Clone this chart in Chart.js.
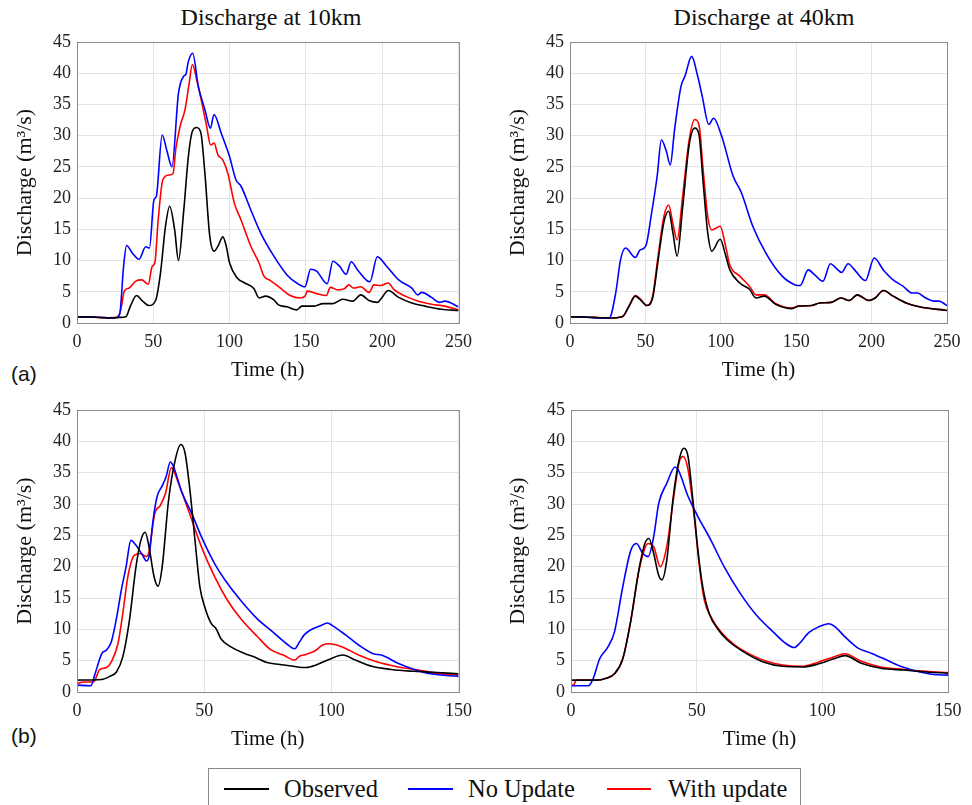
<!DOCTYPE html>
<html>
<head>
<meta charset="utf-8">
<script src="https://cdn.jsdelivr.net/npm/chart.js@4.4.1/dist/chart.umd.min.js"></script>
<style>
  body { margin: 0; background: #fff; width: 972px; height: 805px; overflow: hidden; position: relative; font-family: "Liberation Serif", serif; }
  canvas { position: absolute; }
  .title { position: absolute; top: 4px; font-size: 24px; color: #111; transform: translateX(-50%); white-space: nowrap; }
  .tag { position: absolute; left: 11px; font-family: "Liberation Sans", Arial, sans-serif; font-size: 21px; color: #111; }
  #legend { position: absolute; left: 208px; top: 768px; width: 593px; height: 60px; border: 1px solid #8a8a8a; box-sizing: border-box; }
  .item { position: absolute; top: 6px; font-size: 24.5px; color: #111; white-space: nowrap; }
  .swatch { position: absolute; top: 19px; height: 2px; }
</style>
</head>
<body>
<div class="title" style="left:271px">Discharge at 10km</div>
<div class="title" style="left:764px">Discharge at 40km</div>
<div class="tag" style="top:362px">(a)</div>
<div class="tag" style="top:724px">(b)</div>

<canvas id="a10" width="480" height="385" style="left:0;top:0"></canvas>
<canvas id="a40" width="482" height="385" style="left:490px;top:0"></canvas>
<canvas id="b10" width="480" height="364" style="left:0;top:390px"></canvas>
<canvas id="b40" width="482" height="364" style="left:490px;top:390px"></canvas>

<div id="legend">
  <div class="swatch" style="left:15px;width:45px;background:#000"></div>
  <div class="item" style="left:75px">Observed</div>
  <div class="swatch" style="left:199px;width:45px;background:#0000ff"></div>
  <div class="item" style="left:259px">No Update</div>
  <div class="swatch" style="left:398px;width:44px;background:#ff0000"></div>
  <div class="item" style="left:459px">With update</div>
</div>

<script>
// (a) discharge at 10 km, 0-250 h
const tA10Obs = [0,10,20,28,32,35,39,43,47,51.5,54.7,58,60.7,64,66.5,69.8,73,75.6,78.4,81.2,83.8,87,89.8,92.4,95.6,97.8,100,105,110,116,119.3,123.6,129,132,137.6,144,147.3,154.8,161.3,167.7,174.2,180.7,186,191.4,196.8,199,204,210.8,219.4,228,238.8,250];
const qA10Obs = [1.0,0.95,0.8,0.9,1.0,2.7,4.4,3.5,2.8,3.6,8,15.5,18.7,14.9,10,17.6,26.7,30.7,31.3,30.4,24,13.9,11.5,12.3,13.8,12.3,9.6,7.2,6.4,5.5,4.0,4.3,3.7,2.9,2.6,2.1,2.7,2.7,3.1,3.1,3.8,3.5,4.5,3.6,3.3,3.8,5.2,4.1,3.2,2.7,2.2,2.0];
const tA10No = [0,10,20,24.5,28,30.5,32.5,36,40.7,45,47.5,50.4,52,55.8,59,62.2,66.5,69.8,71.3,73,75.8,79.5,83.8,87.4,89.8,94.5,99.9,104.2,107.5,113.9,120.4,129,137.6,144,149.4,153.1,157,164,167.7,172,176.4,179.6,183.9,191.9,196.8,202.2,210.8,219.4,223.3,225.9,232.3,237.7,241,250];
const qA10No = [1.0,0.95,0.85,0.8,1.5,9,12.4,11.3,10.2,12.2,12,19.7,20.3,30.1,27.5,25,36.8,39.5,39.8,41.9,43.2,37.9,34.2,31.2,33.4,30.4,26.7,22.9,21.9,18.1,14.4,10.7,7.7,6.4,5.8,8.6,8.3,6.3,9.9,9.1,7.8,9.8,8.5,6.6,10.6,9.3,6.9,5.6,4.5,4.9,4.1,3.3,3.5,2.6];
const tA10Upd = [0,10,20,27,29,31,34.2,38.5,42.4,46.7,49.3,51,53.2,56.2,60.1,62.9,64.8,67.6,70.8,73.4,75.6,78.4,81.6,84.8,87.6,89.8,92.4,95.6,98.8,103.1,107.5,113.9,119.3,122.5,126.8,133.3,139.7,146.2,149.4,150.9,157,163.4,166,171,175.3,178.1,181.1,186,191.4,194.6,198.9,203.9,207.6,215.1,223.7,232.3,241,250];
const qA10Upd = [1.0,0.95,0.85,0.9,2.5,5.1,5.6,6.7,6.9,6.2,9.1,9.6,16.5,22.9,23.7,23.9,28,31.5,34.2,38.2,41.4,39,35.5,31.7,28.5,28.8,26.9,26.1,24,19.2,16.5,12.3,9.6,7.5,6.8,5.6,4.4,4.0,4.3,5.1,4.7,4.4,5.7,5.3,5.5,6.1,5.6,5.8,4.9,6.1,6.0,6.4,5.4,4.3,3.5,3.0,2.7,2.1];

// (a) discharge at 40 km, 0-250 h (observed and updated share times)
const tA40 = [0,10,20,26,34.6,39,43.3,47.2,50.9,54.8,58.4,62.3,65.4,68.2,71,74.7,79,82.7,85.5,88.3,91.3,94,99.6,103,106,112.6,119,123.4,128.8,136.4,147.2,151.5,160.2,165.6,173.2,179.7,185.1,190.5,198.1,202.4,207.8,214.3,222.9,231.6,250];
const qA40Obs = [1.0,0.95,0.85,0.8,1.0,2.6,4.3,3.6,2.8,4.0,10,16.2,17.9,14.5,10.7,18.5,28.5,31.2,30.2,22.5,14.5,11.5,13.4,11,8.5,6.4,5.4,4.0,4.3,3.0,2.3,2.7,2.8,3.2,3.3,4.0,3.6,4.5,3.6,4.0,5.2,4.3,3.2,2.6,2.0];
const qA40Upd = [1.0,0.95,0.85,0.8,1.0,2.7,4.4,3.7,2.8,4.3,10.7,17.1,18.9,16,13.3,20.3,29.3,32.6,31.8,24.5,17.1,14.9,15.5,12.5,9.3,7.5,5.9,4.5,4.5,3.1,2.4,2.7,2.8,3.2,3.3,4.0,3.6,4.5,3.6,4.0,5.2,4.3,3.2,2.6,2.0];
const tA40No = [0,10,17,26,30.3,33.5,36.8,43.3,46.5,50.2,54.1,57.8,60.6,63.9,66.5,69.3,73.6,76.2,80.7,84.4,87.7,92,95.2,100.6,108.2,113.6,121.2,129.9,140.7,149.4,152.6,158,162.3,167.7,172.7,176.4,180.1,184.4,189.4,195.9,201.7,207.8,214.3,220.8,226.8,230.5,235.9,241.3,244.6,250];
const qA40No = [1.0,0.95,0.8,0.8,4.8,10.1,12.0,10.5,11.7,12.3,17.6,23.5,29.3,27.5,25.3,30.9,37.9,39.5,42.7,39.8,36.3,31.8,32.8,29.9,23.5,20.9,15.5,11.2,7.5,6.1,6.0,8.5,7.7,6.7,9.5,8.8,8.1,9.5,8.3,6.8,10.4,8.5,6.9,5.9,4.8,4.8,4.0,3.5,3.5,2.8];

// (b) discharge at 10 km, 0-150 h
const tB10Obs = [0,9.7,12.9,15.5,18,20.6,23.2,25.1,26.8,28.3,30.3,31.9,33.5,36,38.6,40.8,42.5,44.4,46.4,48.3,50.2,52.8,54.7,56.6,60.5,65.7,70.8,74.7,79.8,85,90.1,94,99.1,104.5,109.4,115.9,123.6,132.6,141.6,150];
const qB10Obs = [1.9,2.0,2.5,3.2,5.6,11.4,20,24.2,25.5,23.2,18.4,16.9,20,30.6,37,39.5,38.1,32.2,24.2,16.8,13.6,10.9,10.1,8.5,7.2,6.2,5.4,4.7,4.4,4.1,3.9,4.3,5.2,5.9,5.1,4.1,3.6,3.3,3.1,2.9];
const tB10No = [0,5.4,7.1,9.7,11.6,13.5,15.5,17.4,19.3,21.2,23.2,25.8,27.3,28.3,29.9,31.5,33.5,35,36.7,38,41.2,45.1,48.9,54.1,59.2,64.4,70.8,77.2,82.4,85.6,87.5,89.5,92.7,95.3,98.5,100.4,105.6,110.7,116.5,119.7,126.2,132.6,139,150];
const qB10No = [1.1,1.0,2.9,6.1,6.7,8,11.7,16.2,20,24.2,23.4,21.8,20.9,21.6,27.4,31.2,32.9,34.3,36.7,35.9,31.9,28.5,24.8,20.5,17.3,14.6,11.7,9.5,7.7,6.9,8,9.2,10.1,10.5,11,10.6,9.1,7.5,6.1,5.9,4.6,3.6,2.9,2.5];
const tB10Upd = [0,2.6,6.4,9,11.6,13.5,16.1,18,20,22.5,25.1,27.3,28.3,30.6,32.8,34.8,37.1,39.9,43.8,48.9,54.1,59.2,64.4,70.8,76,81.1,85.6,87.5,90.1,93.3,96.6,99.1,104.3,110.7,117.2,126.2,132.6,141.6,150];
const qB10Upd = [1.3,1.6,1.6,3.6,3.9,4.8,7.7,12.5,18.4,21.8,22.1,21.6,22.4,28.5,29.8,31.7,35.8,33.3,29,23.2,18.4,14.6,11.7,8.9,6.8,5.9,5.1,5.7,6.0,6.5,7.5,7.7,7.2,5.9,4.9,4.0,3.6,3.0,2.7];

// (b) discharge at 40 km, 0-150 h
const tB40Obs = [0,10.1,14,17.3,20.6,23.8,27.1,29.4,31,32.9,34.9,36.2,38.1,40.7,43.3,45,46.6,48.5,50.5,52.4,55,58.3,62.2,68.7,76.5,84.3,92.1,98.6,104.5,109,115.5,123.3,132.4,141.5,150];
const qB40Obs = [1.9,1.9,2.2,2.9,5.3,11.4,19.7,23.7,24.5,22.1,18.6,17.9,21,31.2,37.5,38.9,37.5,30.6,22.6,16.8,12.5,10.1,8.3,6.4,4.8,4.1,4.0,4.5,5.3,5.8,4.6,3.8,3.5,3.2,3.0];
const tB40No = [0,6.9,8.8,11.4,14.7,17.3,20.6,23.8,26,28.6,30.7,32.9,34.9,38.1,41.4,42.7,46.6,50.5,55.7,60.9,67.4,73.9,80.4,85.6,88.9,90.8,94.7,98.6,102.5,105.1,109,114.2,119.4,124.6,131.1,138.9,144.1,150];
const qB40No = [1.0,1.0,2.1,5.3,7.2,9.6,16.8,22.6,23.7,22.1,21.6,24.8,30.1,33.3,35.9,35.4,31.2,28,24.2,20,15.7,12.2,9.6,7.7,7.1,7.7,9.5,10.4,10.9,10.4,8.8,7.0,6.2,5.3,4.1,3.2,2.8,2.7];
const tB40Upd = [0,1,2.1,10.1,14,17.3,20.6,23.8,27.1,30.7,32.9,35.5,38.1,40.7,42.9,44.6,46.6,49.2,51.1,53.1,55.7,59.6,64.8,71.3,77.8,84.3,92.1,98.6,104.5,109,115.5,123.3,132.4,141.5,150];
const qB40Upd = [1.1,1.1,1.9,1.9,2.2,2.9,5.3,11.4,19.5,23.7,23.2,20,23.2,30.6,36.5,37.6,35.4,27.4,20,14.6,12,9.6,7.6,6.0,4.9,4.3,4.1,4.8,5.6,6.1,4.9,4.0,3.6,3.3,3.1];

const seriesNames = ["Observed", "No Update", "With update"];
const seriesColors = ["#000000", "#0000ff", "#ff0000"];
const yTicks = [0, 5, 10, 15, 20, 25, 30, 35, 40, 45];

const pairs = (t, q) => t.map((x, i) => ({ x: x, y: q[i] }));

// box round the plot area, like matlab's "box on"
const boxPlugin = {
  id: "box",
  afterDraw(chart) {
    const a = chart.chartArea, ctx = chart.ctx;
    ctx.save();
    ctx.strokeStyle = "#8c8c8c";
    ctx.lineWidth = 1;
    ctx.strokeRect(Math.round(a.left) + 0.5, Math.round(a.top) + 0.5,
      Math.round(a.right - a.left), Math.round(a.bottom - a.top));
    ctx.restore();
  }
};

function makePanel(id, lines, xMax, opts) {
  const font = { family: "'Liberation Serif', serif", size: 18 };
  const titleFont = { family: "'Liberation Serif', serif", size: 21 };
  return new Chart(document.getElementById(id), {
    type: "line",
    data: {
      datasets: lines.map((pts, i) => ({
        label: seriesNames[i],
        data: pts,
        borderColor: seriesColors[i],
        borderWidth: 1.6,
        pointRadius: 0,
        cubicInterpolationMode: "monotone",
        fill: false,
      })),
    },
    options: {
      responsive: false,
      animation: false,
      layout: { padding: { left: 0, top: opts.padTop, right: opts.padRight, bottom: 0 } },
      plugins: { legend: { display: false }, tooltip: { enabled: false } },
      scales: {
        x: {
          type: "linear",
          min: 0,
          max: xMax,
          ticks: { stepSize: 50, color: "#222", font: font, padding: 8, maxRotation: 0 },
          grid: { color: "#e4e4e4", drawTicks: false },
          border: { display: false },
          title: { display: true, text: "Time (h)", color: "#111", font: titleFont, padding: { top: 0, bottom: 2 } },
          afterFit: (s) => { s.height = opts.xHeight; },
        },
        y: {
          min: 0,
          max: 45,
          afterBuildTicks: (s) => { s.ticks = yTicks.map((v) => ({ value: v })); },
          ticks: { color: "#222", font: font, padding: 6 },
          grid: { color: "#e4e4e4", drawTicks: false },
          border: { display: false },
          title: { display: true, text: "Discharge (m³/s)", color: "#111", font: { family: titleFont.family, size: 22 }, padding: { top: opts.titlePad, bottom: 0 } },
          afterFit: (s) => { s.width = opts.yWidth; },
        },
      },
    },
    plugins: [boxPlugin],
  });
}

makePanel("a10", [pairs(tA10Obs, qA10Obs), pairs(tA10No, qA10No), pairs(tA10Upd, qA10Upd)], 250,
  { padTop: 42, padRight: 16, xHeight: 62, yWidth: 77, titlePad: 12 });
makePanel("a40", [pairs(tA40, qA40Obs), pairs(tA40No, qA40No), pairs(tA40, qA40Upd)], 250,
  { padTop: 42, padRight: 25, xHeight: 62, yWidth: 80, titlePad: 15 });
makePanel("b10", [pairs(tB10Obs, qB10Obs), pairs(tB10No, qB10No), pairs(tB10Upd, qB10Upd)], 150,
  { padTop: 20, padRight: 15, xHeight: 62, yWidth: 77, titlePad: 12 });
makePanel("b40", [pairs(tB40Obs, qB40Obs), pairs(tB40No, qB40No), pairs(tB40Upd, qB40Upd)], 150,
  { padTop: 20, padRight: 24, xHeight: 62, yWidth: 81, titlePad: 15 });
</script>
</body>
</html>
